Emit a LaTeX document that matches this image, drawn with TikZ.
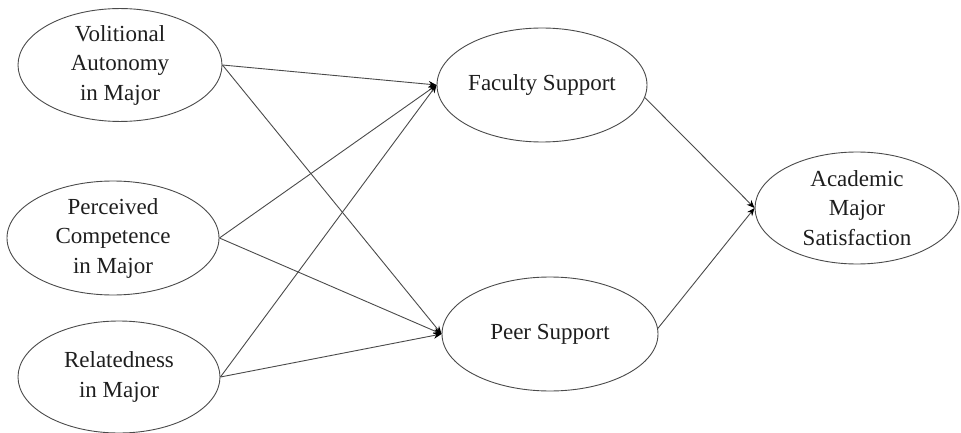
\documentclass[tikz,border=0pt]{standalone}
\usepackage{fontspec}
\setmainfont{Liberation Serif}
\usetikzlibrary{shapes.geometric,arrows.meta}
\definecolor{edgegray}{HTML}{4A4A4A}
\definecolor{txt}{HTML}{1E1E1E}
\begin{document}
\begin{tikzpicture}[x=1pt,y=-1pt,
  construct/.style={ellipse,draw=edgegray,line width=0.9pt,inner sep=0pt,align=center,
    text=txt,font=\fontsize{23}{29.5}\selectfont},
  path/.style={draw=edgegray,line width=0.9pt,-{Stealth[length=8pt,width=6.5pt,color=black,fill=black]}}]
\useasboundingbox (0,0) rectangle (961,433);
\node[construct,minimum width=204pt,minimum height=110pt] (v) at (120,65) {Volitional\\Autonomy\\in Major};
\node[construct,minimum width=212pt,minimum height=114pt] (c) at (113,238) {Perceived\\Competence\\in Major};
\node[construct,minimum width=202pt,minimum height=112pt] (r) at (119,377) {Relatedness\\in Major};
\node[construct,minimum width=210pt,minimum height=114pt] (f) at (542,85) {Faculty Support};
\node[construct,minimum width=216pt,minimum height=114pt] (p) at (550,334) {Peer Support};
\node[construct,minimum width=204pt,minimum height=112pt] (a) at (857,208) {Academic\\Major\\Satisfaction};
\draw[path] (v.east) -- (f.west);
\draw[path] (v.east) -- (p.west);
\draw[path] (c.east) -- (f.west);
\draw[path] (c.east) -- (p.west);
\draw[path] (r.east) -- (f.west);
\draw[path] (r.east) -- (p.west);
\draw[path] (f.-7) -- (a.west);
\draw[path] (p.3) -- (a.west);
\end{tikzpicture}
\end{document}
